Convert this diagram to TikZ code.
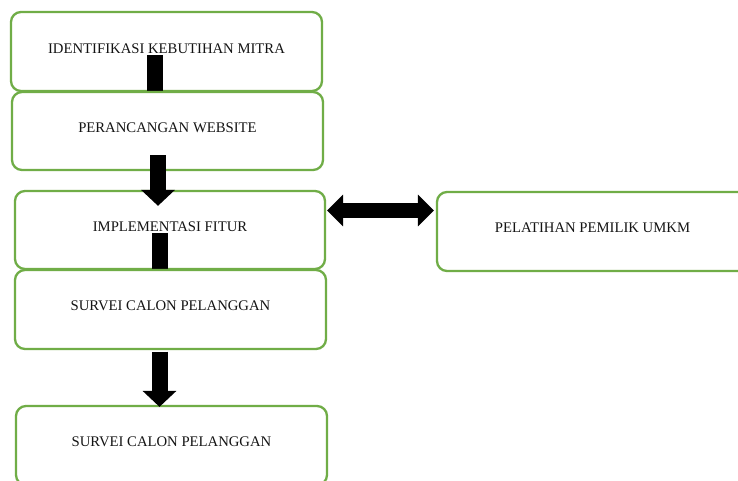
\documentclass[tikz,border=0pt]{standalone}
\usepackage{fontspec}
\setmainfont{Liberation Serif}
\usetikzlibrary{arrows.meta}
\definecolor{boxgreen}{HTML}{70AD47}
\definecolor{txtc}{HTML}{141414}
\tikzset{
  box/.style={draw=boxgreen, line width=2.3pt, fill=white, rounded corners=10pt,
    minimum width=311pt, minimum height=79pt, inner sep=0pt},
  txt/.style={inner sep=0pt, text=txtc, font=\fontsize{14.7}{17}\selectfont},
  fat/.style={line width=16pt, draw=black, -{Triangle[length=16pt,width=33pt]}},
  fatboth/.style={line width=15pt, draw=black, {Triangle[length=16pt,width=31pt]}-{Triangle[length=16pt,width=31pt]}}
}
\begin{document}
\begin{tikzpicture}[x=1pt,y=-1pt]
\useasboundingbox (0,0) rectangle (738,480);
\clip (0,0) rectangle (738,480);
\fill[white] (0,0) rectangle (738,480);
% box 1
\node[box] (b1) at (166.5,51.5) {};
\node[txt] (t1) at ([yshift=2.5pt]b1.center) {IDENTIFIKASI KEBUTIHAN MITRA};
\draw[fat] ([xshift=-11.5pt,yshift=-3.5pt]b1.center) -- ([xshift=-11.5pt,yshift=-20pt]b1.south);
% box 2
\node[box, minimum height=78pt] (b2) at (167.5,131) {};
\node[txt] (t2) at ([yshift=3pt]b2.center) {PERANCANGAN WEBSITE};
% box 3
\node[box, minimum width=310pt, minimum height=78pt] (b3) at (170,230) {};
\draw[fat] ([xshift=-9.5pt,yshift=16pt]b2.south) -- ([xshift=-12pt,yshift=-16pt]b3.north);
\node[txt] (t3) at ([yshift=3pt]b3.center) {IMPLEMENTASI FITUR};
\draw[fat] ([xshift=-10pt,yshift=-3pt]b3.center) -- ([xshift=-10pt,yshift=-20pt]b3.south);
% box 4
\node[box] (b4) at (170.5,309.5) {};
\node[txt] (t4) at ([yshift=3.5pt]b4.center) {SURVEI CALON PELANGGAN};
% box 5
\node[box] (b5) at (171.5,445.5) {};
\draw[fat] ([xshift=-11pt,yshift=-1.5pt]b4.south) -- ([xshift=-12pt,yshift=-2pt]b5.north);
\node[txt] (t5) at ([yshift=3.5pt]b5.center) {SURVEI CALON PELANGGAN};
% box 6
\node[box] (b6) at (592.5,231.5) {};
\node[txt] (t6) at ([yshift=3.5pt]b6.center) {PELATIHAN PEMILIK UMKM};
% double arrow
\draw[fatboth] ([xshift=1pt,yshift=19.5pt]b3.east) -- ([xshift=-2pt,yshift=21pt]b6.west);
\end{tikzpicture}
\end{document}
